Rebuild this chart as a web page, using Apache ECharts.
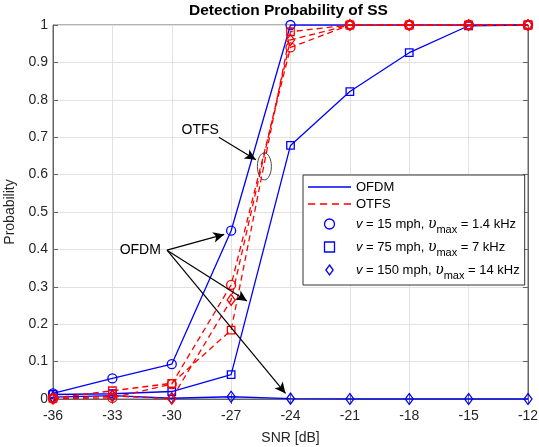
<!DOCTYPE html>
<html><head><meta charset="utf-8">
<script src="https://cdn.jsdelivr.net/npm/echarts@6/dist/echarts.min.js"></script>
<style>html,body{margin:0;padding:0;background:#fff}#c{width:539px;height:447px}</style>
</head><body><div id="c"></div>
<script>
// ---- data ----
const snr = [-36, -33, -30, -27, -24, -21, -18, -15, -12];
const xTicks = [-36, -33, -30, -27, -24, -21, -18, -15, -12];
const yTicks = [0, 0.1, 0.2, 0.3, 0.4, 0.5, 0.6, 0.7, 0.8, 0.9, 1];
const ofdm15  = [0.015, 0.055, 0.093, 0.450, 1.000, 1.000, 1.000, 1.000, 1.000];
const ofdm75  = [0.012, 0.014, 0.020, 0.065, 0.678, 0.822, 0.926, 0.998, 1.000];
const ofdm150 = [0.005, 0.009, 0.002, 0.006, 0.001, 0.000, 0.000, 0.000, 0.000];
const otfs15  = [0.001, 0.003, 0.040, 0.305, 0.940, 1.000, 1.000, 1.000, 1.000];
const otfs75  = [0.002, 0.022, 0.042, 0.184, 0.982, 1.000, 1.000, 1.000, 1.000];
const otfs150 = [0.001, 0.008, 0.001, 0.265, 0.960, 1.000, 1.000, 1.000, 1.000];
// annotation anchors (data coordinates)
const arrowLines = [
  [[-30.24, 0.398], [-27.35, 0.440]],
  [[-30.24, 0.398], [-26.20, 0.262]],
  [[-30.24, 0.398], [-24.25, 0.015]],
  [[-27.62, 0.700], [-25.75, 0.640]]
];
const annotTexts = [
  {text: 'OTFS', at: [-27.62, 0.719]},
  {text: 'OFDM', at: [-30.55, 0.398]}
];
const ellipseAt = [-25.32, 0.622];

// ---- chart ----
const BLUE = '#0000ff', RED = '#ff0000', FONT = 'Liberation Sans', AX = '#666666';
const chart = echarts.init(document.getElementById('c'), null, {renderer: 'canvas'});
function pairs(ys) { return snr.map((x, i) => [x, ys[i]]); }
function dataSeries(name, ys, color, symbol, size, dashed) {
  return {
    name, type: 'line', data: pairs(ys), symbol, symbolSize: size, showSymbol: true,
    lineStyle: {color, width: 1.3, type: dashed ? [6, 4] : 'solid'},
    itemStyle: {color: 'rgba(0,0,0,0)', borderColor: color, borderWidth: 1.3},
    emphasis: {disabled: true}, silent: true, animation: false, z: dashed ? 4 : 3
  };
}
const legendLabels = {
  'OFDM': 'OFDM',
  'OTFS': 'OTFS',
  'v15': '{i|v} = 15 mph, {u|υ}{s|max} = 1.4 kHz',
  'v75': '{i|v} = 75 mph, {u|υ}{s|max} = 7 kHz',
  'v150': '{i|v} = 150 mph, {u|υ}{s|max} = 14 kHz'
};
const series = [
  dataSeries('OFDM 15', ofdm15, BLUE, 'circle', 9, false),
  dataSeries('OFDM 75', ofdm75, BLUE, 'rect', 7.5, false),
  dataSeries('OFDM 150', ofdm150, BLUE, 'diamond', [8, 11], false),
  dataSeries('OTFS 15', otfs15, RED, 'circle', 9, true),
  dataSeries('OTFS 75', otfs75, RED, 'rect', 7.5, true),
  dataSeries('OTFS 150', otfs150, RED, 'diamond', [8, 11], true),
  {name: 'OFDM', type: 'line', data: [], lineStyle: {color: BLUE}, itemStyle: {color: BLUE}},
  {name: 'OTFS', type: 'line', data: [], lineStyle: {color: RED}, itemStyle: {color: RED}},
  {name: 'v15', type: 'line', data: [], itemStyle: {color: BLUE}},
  {name: 'v75', type: 'line', data: [], itemStyle: {color: BLUE}},
  {name: 'v150', type: 'line', data: [], itemStyle: {color: BLUE}}
];
series[5].markLine = {
  silent: true, animation: false, symbol: ['none', 'arrow'], symbolSize: [8, 11],
  label: {show: false},
  lineStyle: {color: '#000', width: 1.2, type: 'solid'},
  itemStyle: {color: '#000'},
  emphasis: {disabled: true},
  data: arrowLines.map(l => [{coord: l[0]}, {coord: l[1]}])
};
const markerStyle = {color: 'rgba(0,0,0,0)', borderColor: BLUE, borderWidth: 1.3};
const axisCommon = {
  axisLine: {show: true, lineStyle: {color: AX, width: 1}},
  axisTick: {show: true, inside: true, length: 5, lineStyle: {color: AX}},
};
const option = {
  animation: false,
  backgroundColor: '#ffffff',
  title: {text: 'Detection Probability of SS', left: 189, top: 3, padding: 0,
    textStyle: {fontFamily: FONT, fontSize: 15.5, fontWeight: 'bold', color: '#000'}},
  grid: {left: 53, right: 11, top: 25, bottom: 48, show: true, borderColor: AX, borderWidth: 1,
    containLabel: false, outerBoundsMode: 'none'},
  xAxis: [
    Object.assign({type: 'value', min: xTicks[0], max: xTicks[xTicks.length - 1], interval: 3,
      name: 'SNR [dB]', nameLocation: 'middle', nameGap: 32,
      nameTextStyle: {fontFamily: FONT, fontSize: 14, color: '#262626'},
      axisLabel: {fontFamily: FONT, fontSize: 14, color: '#262626', margin: 10},
      splitLine: {show: true, lineStyle: {color: '#e2e2e2', width: 1}}}, axisCommon),
    Object.assign({type: 'value', position: 'top', min: xTicks[0], max: xTicks[xTicks.length - 1], interval: 3,
      axisLabel: {show: false}, splitLine: {show: false}}, axisCommon)
  ],
  yAxis: [
    Object.assign({type: 'value', min: yTicks[0], max: yTicks[yTicks.length - 1], interval: 0.1,
      name: 'Probability', nameLocation: 'middle', nameGap: 34,
      nameTextStyle: {fontFamily: FONT, fontSize: 14, color: '#262626'},
      axisLabel: {fontFamily: FONT, fontSize: 14, color: '#262626', margin: 5},
      splitLine: {show: true, lineStyle: {color: '#e2e2e2', width: 1}}}, axisCommon),
    Object.assign({type: 'value', position: 'right', min: yTicks[0], max: yTicks[yTicks.length - 1], interval: 0.1,
      axisLabel: {show: false}, splitLine: {show: false}}, axisCommon)
  ],
  legend: {
    orient: 'vertical', left: 303, top: 175, padding: [4, 5, 4, 5], itemGap: 1,
    itemWidth: 43, itemHeight: 10, itemTextGap: 1, selectedMode: false,
    backgroundColor: '#ffffff', borderColor: '#333333', borderWidth: 1, borderRadius: 0,
    textStyle: {fontFamily: FONT, fontSize: 13, color: '#000', lineHeight: 16,
      rich: {
        i: {fontFamily: FONT, fontSize: 13, fontStyle: 'italic', lineHeight: 22, color: '#000'},
        u: {fontFamily: 'DejaVu Serif', fontSize: 14, fontStyle: 'italic', lineHeight: 22, color: '#000'},
        s: {fontFamily: FONT, fontSize: 11, lineHeight: 11, verticalAlign: 'bottom', color: '#000'}
      }},
    formatter: n => legendLabels[n],
    data: [
      {name: 'OFDM', icon: 'path://M0,0h40v1.3h-40z', itemStyle: {color: BLUE, borderWidth: 0}},
      {name: 'OTFS', icon: 'path://M0,0h6v1.3h-6zM10,0h6v1.3h-6zM20,0h6v1.3h-6zM30,0h6v1.3h-6z', itemStyle: {color: RED, borderWidth: 0}},
      {name: 'v15', icon: 'circle', itemStyle: markerStyle},
      {name: 'v75', icon: 'path://M0,0h1v1h-1z', itemStyle: markerStyle},
      {name: 'v150', icon: 'path://M4,0L8,5.5L4,11L0,5.5z', itemStyle: markerStyle}
    ]
  },
  series
};
chart.setOption(option);

// annotation texts and ellipse placed through the chart's own coordinate conversion
const toPx = p => chart.convertToPixel({xAxisIndex: 0, yAxisIndex: 0}, p);
const g = [];
annotTexts.forEach(t => {
  const p = toPx(t.at);
  g.push({type: 'text', x: p[0], y: p[1], silent: true, z: 20,
    style: {text: t.text, fontFamily: FONT, fontSize: 14, fill: '#000', align: 'right', verticalAlign: 'middle'}});
});
const e = toPx(ellipseAt);
g.push({type: 'ellipse', silent: true, z: 20, shape: {cx: e[0], cy: e[1], rx: 7, ry: 13.5},
  style: {fill: 'none', stroke: '#333', lineWidth: 0.9}});
chart.setOption({graphic: g});
</script>
</body></html>
